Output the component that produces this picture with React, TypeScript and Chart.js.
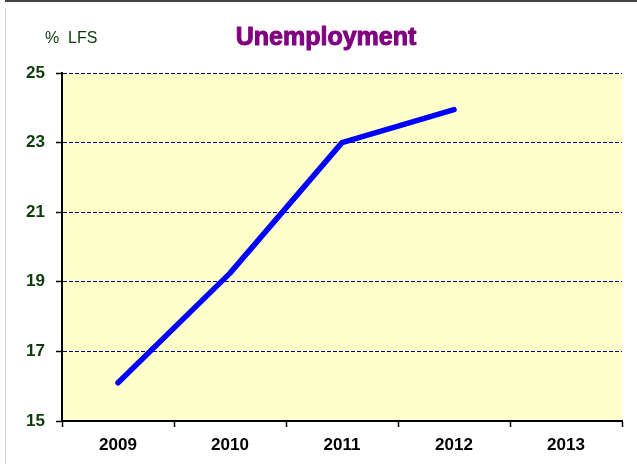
import React, { useEffect, useRef } from "react";
import { Chart, registerables } from "chart.js";

Chart.register(...registerables);

const categories = ["2009", "2010", "2011", "2012", "2013"];
const unemployment = [16.1, 19.25, 23.0, 23.95, null];
const yTicks = [15, 17, 19, 21, 23, 25];
const titleText = "Unemployment";
const unitText = "%  LFS";

const decorPlugin = {
  id: "decor",
  beforeDraw(chart: any) {
    const { ctx, chartArea } = chart;
    ctx.save();
    ctx.fillStyle = "#ffffff";
    ctx.fillRect(0, 0, chart.width, chart.height);
    ctx.fillStyle = "#FFFFCC";
    ctx.fillRect(chartArea.left, chartArea.top, chartArea.right - chartArea.left, chartArea.bottom - chartArea.top);
    // outer frame
    ctx.strokeStyle = "#444444";
    ctx.lineWidth = 2;
    ctx.beginPath();
    ctx.moveTo(5, 1);
    ctx.lineTo(chart.width, 1);
    ctx.stroke();
    ctx.strokeStyle = "#d0d0d0";
    ctx.lineWidth = 1;
    ctx.beginPath();
    ctx.moveTo(5.5, 8);
    ctx.lineTo(5.5, chart.height);
    ctx.stroke();
    ctx.restore();
  },
  afterDraw(chart: any) {
    const { ctx } = chart;
    ctx.save();
    ctx.textBaseline = "middle";
    ctx.textAlign = "center";
    ctx.fillStyle = "#800080";
    ctx.strokeStyle = "#800080";
    ctx.lineWidth = 1;
    ctx.lineJoin = "round";
    ctx.font = "bold 25px 'Liberation Sans', Arial, sans-serif";
    ctx.fillText(titleText, 326, 38);
    ctx.strokeText(titleText, 326, 38);
    ctx.textAlign = "left";
    ctx.fillStyle = "#0a3d0a";
    ctx.font = "16px 'Liberation Sans', Arial, sans-serif";
    ctx.fillText(unitText, 45, 39);
    ctx.restore();
  },
};

export default function App() {
  const ref = useRef<HTMLCanvasElement>(null);
  useEffect(() => {
    if (!ref.current) return;
    const chart = new Chart(ref.current, {
      type: "line",
      data: {
        labels: categories,
        datasets: [
          {
            data: unemployment as any,
            borderColor: "#0000FF",
            borderWidth: 5.5,
            borderCapStyle: "round",
            borderJoinStyle: "round",
            pointRadius: 0,
            fill: false,
            tension: 0,
          },
        ],
      },
      options: {
        animation: false,
        responsive: false,
        maintainAspectRatio: false,
        layout: { padding: { top: 73, right: 15, left: 0, bottom: 0 } },
        plugins: { legend: { display: false }, title: { display: false }, tooltip: { enabled: false } },
        scales: {
          x: {
            offset: true,
            grid: {
              offset: true,
              drawOnChartArea: false,
              drawTicks: true,
              tickLength: 6,
              tickColor: "#000000",
              tickWidth: 1.5,
              color: "#000000",
            },
            border: { display: true, color: "#000000", width: 2 },
            ticks: {
              color: "#000000",
              padding: 8,
              maxRotation: 0,
              font: { family: "'Liberation Sans', Arial, sans-serif", size: 17, weight: "bold" },
            },
            afterFit(scale: any) {
              scale.height = 43;
            },
          },
          y: {
            min: 15,
            max: 25,
            afterBuildTicks(scale: any) {
              scale.ticks = yTicks.map((v) => ({ value: v }));
            },
            grid: {
              color: "#000080",
              lineWidth: 1,
              drawTicks: true,
              tickLength: 6,
              tickColor: "#000000",
              tickWidth: 1.5,
            },
            border: { display: true, color: "#000000", width: 2, dash: [4, 2] },
            ticks: {
              color: "#0a3d0a",
              padding: 11,
              font: { family: "'Liberation Sans', Arial, sans-serif", size: 17, weight: "bold" },
            },
            afterFit(scale: any) {
              scale.width = 62;
            },
          },
        },
      },
      plugins: [decorPlugin],
    });
    return () => chart.destroy();
  }, []);
  return (
    <div style={{ position: "fixed", left: 0, top: 0, width: 637, height: 464, background: "#fff" }}>
      <canvas ref={ref} width={637} height={464} style={{ display: "block" }} />
    </div>
  );
}
